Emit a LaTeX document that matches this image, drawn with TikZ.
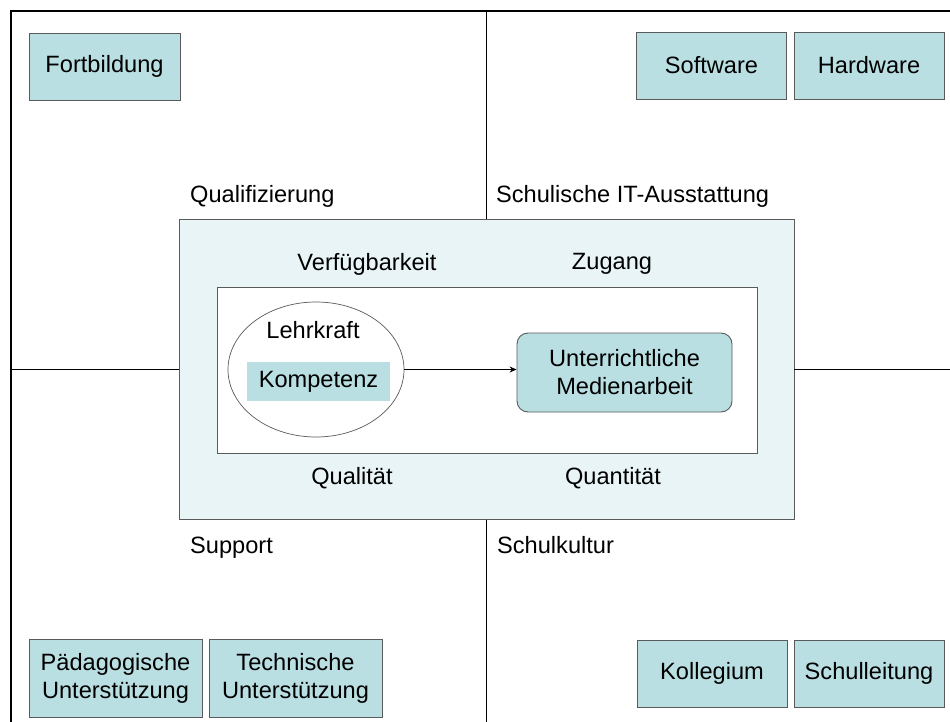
\documentclass[tikz,border=0pt]{standalone}
\usepackage{fontspec}
\setmainfont{Liberation Sans}
\usetikzlibrary{arrows.meta,shapes.geometric}

\definecolor{boxfill}{HTML}{B9DFE3}
\definecolor{areafill}{HTML}{E8F4F6}
\definecolor{boxline}{HTML}{5A5A5A}

\begin{document}
\begin{tikzpicture}[x=1pt, y=-1pt, font=\fontsize{23.6}{28}\selectfont, >={Stealth[length=7pt,width=6pt]}]
  \tikzstyle{factor} = [draw=boxline, fill=boxfill, rectangle, align=center, inner sep=0pt, line width=0.9pt]
  \tikzstyle{label} = [inner sep=0pt, anchor=base west]
  \tikzstyle{divider} = [draw=black, line width=1pt]
  \useasboundingbox (0,0) rectangle (950,722);

  % frame
  \coordinate (topleft) at (11,11);
  \coordinate (topright) at (950,11);
  \coordinate (bottomleft) at (11,722);
  \coordinate (topmid) at (486.5,11);
  \coordinate (bottommid) at (486.5,722);
  \coordinate (rightmid) at (950,369.5);
  \coordinate (leftmid) at (11,369.5);
  \draw[line width=2.5pt] (topright) -- (topleft) -- (bottomleft);

  % central area
  \node (area) [draw=boxline, fill=areafill, rectangle, line width=0.9pt, minimum width=615pt, minimum height=300pt] at (486.5,369.5) {};
  \node (inner) [draw=boxline, fill=white, rectangle, line width=0.9pt, minimum width=540pt, minimum height=166pt] at (487,370) {};
  \draw[divider] (topmid) -- (area.north);
  \draw[divider] (bottommid) -- (area.south);
  \draw[divider] (leftmid) -- (area.west);
  \draw[divider] (rightmid) -- (area.east);

  % quadrant labels
  \node (qual) [label] at (190,203) {Qualifizierung};
  \node (ausst) [label] at (496,203) {Schulische IT-Ausstattung};
  \node (supp) [label] at (190,553) {Support};
  \node (kultur) [label] at (497,553) {Schulkultur};

  \node (verf) at (367,264) {Verfügbarkeit};
  \node (zug) at (612,264) {Zugang};
  \node (qualit) at (352,478) {Qualität};
  \node (quant) at (613,478) {Quantität};

  % teacher and teaching
  \node (lehrer) [draw=boxline, ellipse, line width=0.7pt, fill=white, minimum width=176pt, minimum height=135pt, inner sep=0pt] at (316,369.5) {};
  \node (lehrkraft) at (313,330) {Lehrkraft};
  \node (kompetenz) [fill=boxfill, rectangle, minimum width=143pt, minimum height=39pt, inner sep=0pt] at (318.5,381.5) {Kompetenz};
  \node (medien) [factor, rounded corners=11pt, minimum width=215pt, minimum height=79pt] at (624.5,372.5) {Unterrichtliche\\Medienarbeit};
  \draw[->, line width=0.9pt] (lehrer.east) -- (lehrer.east -| medien.west);

  % corner factors
  \node (fortb) [factor, minimum width=151pt, minimum height=67pt] at (104.5,66.5) {Fortbildung};
  \node (soft) [factor, minimum width=150pt, minimum height=67pt] at (711.5,65.5) {Software};
  \node (hard) [factor, minimum width=150pt, minimum height=67pt] at (869,65.5) {Hardware};
  \node (paed) [factor, minimum width=173pt, minimum height=78pt] at (115.5,678) {Pädagogische\\Unterstützung};
  \node (tech) [factor, minimum width=173pt, minimum height=78pt] at (295.5,678) {Technische\\Unterstützung};
  \node (koll) [factor, minimum width=150pt, minimum height=67pt] at (712,673.5) {Kollegium};
  \node (leit) [factor, minimum width=150pt, minimum height=67pt] at (869,673.5) {Schulleitung};
\end{tikzpicture}
\end{document}
